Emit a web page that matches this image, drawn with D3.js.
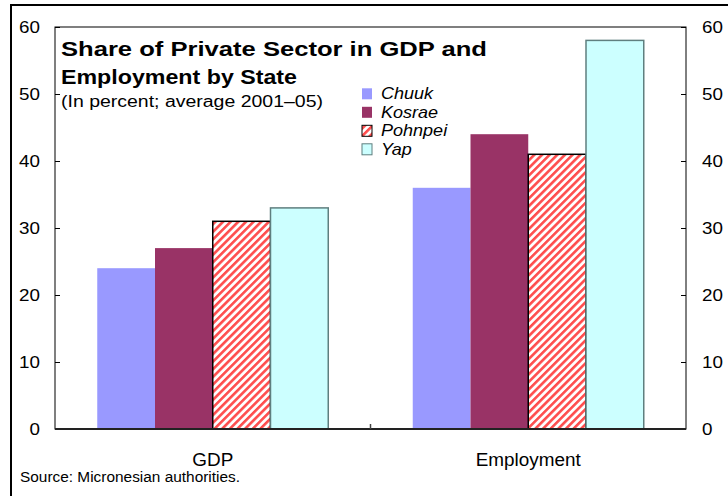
<!DOCTYPE html>
<html><head><meta charset="utf-8">
<script src="https://cdn.jsdelivr.net/npm/d3@7"></script>
<style>body{margin:0;background:#fff}svg{display:block}text{font-family:"Liberation Sans",Arial,sans-serif}</style>
</head><body>
<svg id="c" width="728" height="496"></svg>
<script>
const categories = ["GDP", "Employment"];
const seriesNames = ["Chuuk", "Kosrae", "Pohnpei", "Yap"];
const chuuk = [24, 36];
const kosrae = [27, 44];
const pohnpei = [31, 41];
const yap = [33, 58];
const yTicks = [0, 10, 20, 30, 40, 50, 60];
const titleLines = ["Share of Private Sector in GDP and", "Employment by State"];
const subtitle = "(In percent; average 2001\u201305)";
const source = "Source: Micronesian authorities.";

const seriesValues = [chuuk, kosrae, pohnpei, yap];
const fills = ["#9999ff", "#993366", "url(#hatch)", "#ccffff"];
const strokes = ["none", "none", "#000", "#5f7f7f"];

const svg = d3.select("#c");
const defs = svg.append("defs");
const pat = defs.append("pattern").attr("id", "hatch").attr("patternUnits", "userSpaceOnUse")
  .attr("width", 5.4).attr("height", 5.4).attr("patternTransform", "rotate(45)");
pat.append("rect").attr("width", 5.4).attr("height", 5.4).attr("fill", "#fff");
pat.append("rect").attr("x", 0).attr("width", 2.6).attr("height", 5.4).attr("fill", "#ff4d4d");

// horizontal stretch helper (reference text is rendered wider than the font's natural width)
function stretch(sel, f) {
  sel.each(function () {
    const w = this.getComputedTextLength();
    d3.select(this).attr("textLength", w * f).attr("lengthAdjust", "spacingAndGlyphs");
  });
}
function fitTo(sel, w) {
  sel.attr("textLength", w).attr("lengthAdjust", "spacingAndGlyphs");
}

// outer frame
svg.append("rect").attr("x", 11).attr("y", 5).attr("width", 740).attr("height", 520)
  .attr("fill", "none").attr("stroke", "#000").attr("stroke-width", 2);

const L = 55, R = 686, T = 27, B = 429;
const x0 = d3.scaleBand().domain(categories).range([L, R]).paddingInner(0).paddingOuter(0);
const groupW = 231;
const x1 = d3.scaleBand().domain(seriesNames).range([0, groupW]);
const y = d3.scaleLinear().domain([0, 60]).range([B, T]);

// bars
seriesNames.forEach((s, si) => {
  svg.append("g").selectAll("rect").data(categories).join("rect")
    .attr("x", c => x0(c) + (x0.bandwidth() - groupW) / 2 + x1(s))
    .attr("y", (c, i) => y(seriesValues[si][i]))
    .attr("width", x1.bandwidth())
    .attr("height", (c, i) => B - y(seriesValues[si][i]))
    .attr("fill", fills[si])
    .attr("stroke", strokes[si])
    .attr("stroke-width", strokes[si] === "none" ? 0 : 1.5);
});

// plot box
svg.append("rect").attr("x", L).attr("y", T).attr("width", R - L).attr("height", B - T)
  .attr("fill", "none").attr("stroke", "#000").attr("stroke-width", 1);

// left axis
const gl = svg.append("g").attr("transform", `translate(${L},0)`)
  .call(d3.axisLeft(y).tickValues(yTicks).tickSizeInner(-5).tickSizeOuter(0).tickPadding(15));
gl.select(".domain").remove();
gl.selectAll("text").attr("font-size", 16.5).attr("fill", "#000").attr("font-family", "Liberation Sans, Arial, sans-serif");
gl.selectAll("line").attr("stroke", "#000");
stretch(gl.selectAll("text"), 1.14);
const gr = svg.append("g").attr("transform", `translate(${R},0)`)
  .call(d3.axisRight(y).tickValues(yTicks).tickSizeInner(-5).tickSizeOuter(0).tickPadding(16));
gr.select(".domain").remove();
gr.selectAll("text").attr("font-size", 16.5).attr("fill", "#000").attr("font-family", "Liberation Sans, Arial, sans-serif");
gr.selectAll("line").attr("stroke", "#000");
stretch(gr.selectAll("text"), 1.14);

// bottom axis
svg.append("line").attr("x1", L).attr("x2", R).attr("y1", B).attr("y2", B)
  .attr("stroke", "#222").attr("stroke-width", 2);
const gb = svg.append("g").attr("transform", `translate(0,${B})`)
  .call(d3.axisBottom(x0).tickSize(0).tickPadding(24));
gb.select(".domain").remove();
gb.selectAll("text").attr("font-size", 18).attr("fill", "#000").attr("font-family", "Liberation Sans, Arial, sans-serif");
stretch(gb.selectAll("text"), 1.05);
// category divider tick
svg.append("line").attr("x1", x0("Employment")).attr("x2", x0("Employment")).attr("y1", B).attr("y2", B - 5)
  .attr("stroke", "#444").attr("stroke-width", 1.5);

// title
fitTo(svg.append("text").attr("x", 61).attr("y", 56).attr("font-size", 19.5).attr("font-weight", "bold").text(titleLines[0]), 426);
fitTo(svg.append("text").attr("x", 61).attr("y", 83.5).attr("font-size", 19.5).attr("font-weight", "bold").text(titleLines[1]), 236);
fitTo(svg.append("text").attr("x", 61).attr("y", 107).attr("font-size", 16).text(subtitle), 262);

// legend
const lg = svg.append("g");
seriesNames.forEach((s, i) => {
  const base = 99.3 + i * 18.5;
  lg.append("rect").attr("x", 362).attr("y", base - 11).attr("width", 10).attr("height", 11)
    .attr("fill", fills[i]).attr("stroke", strokes[i]).attr("stroke-width", strokes[i] === "none" ? 0 : 1);
  const t = lg.append("text").attr("x", 381).attr("y", base).attr("font-size", 17).attr("font-style", "italic").text(s);
  stretch(t, 1.06);
});

fitTo(svg.append("text").attr("x", 20).attr("y", 482).attr("font-size", 15.5).text(source), 220);
</script>
</body></html>
